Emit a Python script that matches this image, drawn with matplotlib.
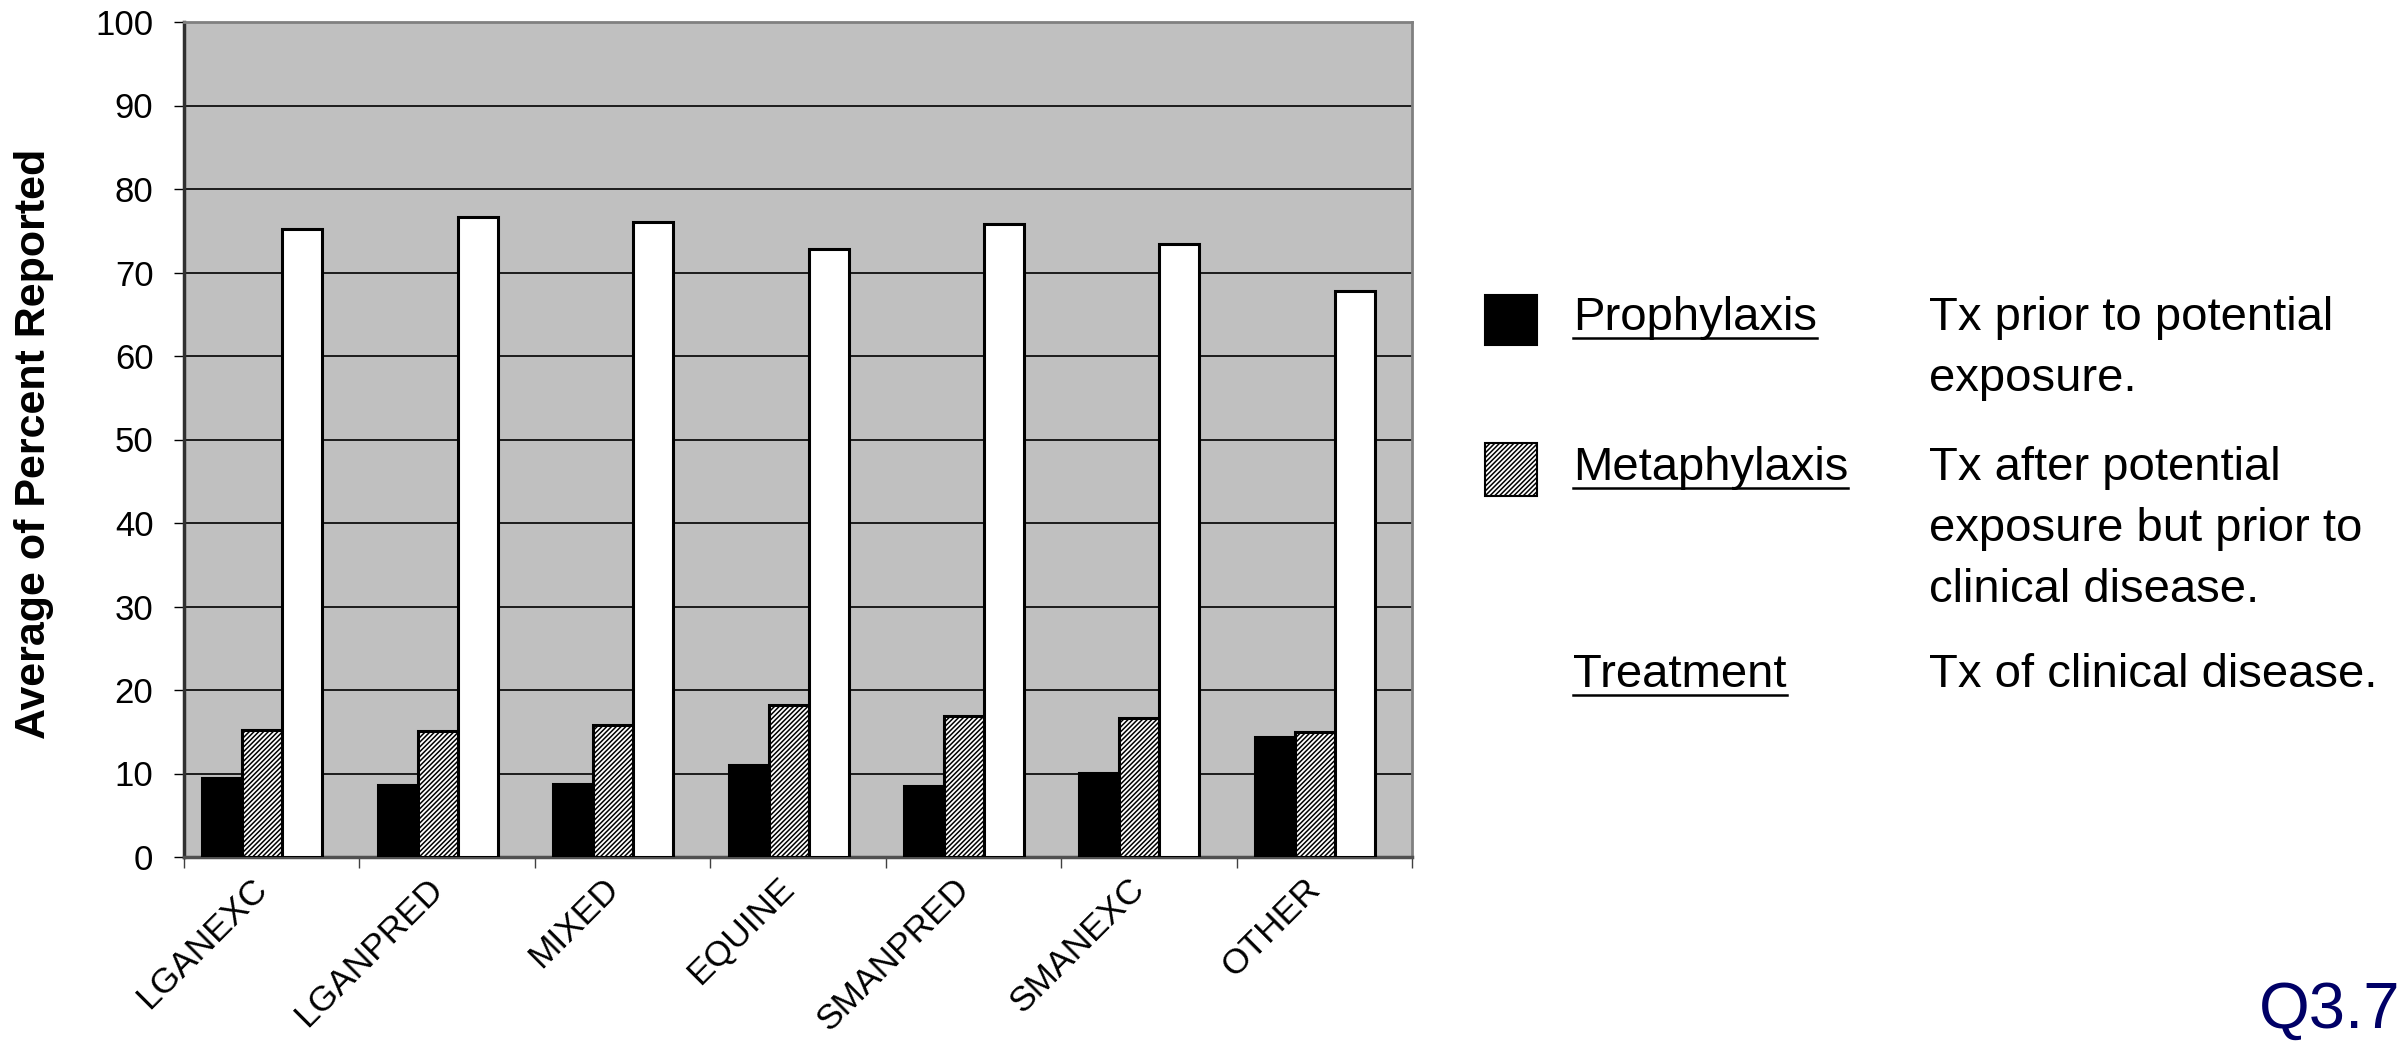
import numpy as np
import matplotlib.pyplot as plt
from matplotlib.patches import Rectangle

categories = ['LGANEXC', 'LGANPRED', 'MIXED', 'EQUINE', 'SMANPRED', 'SMANEXC', 'OTHER']
prophylaxis = [9.5, 8.6, 8.8, 11.0, 8.5, 10.1, 14.4]
metaphylaxis = [15.2, 15.1, 15.8, 18.2, 16.9, 16.6, 15.0]
treatment = [75.2, 76.7, 76.0, 72.8, 75.8, 73.4, 67.8]

legend_names = ['Prophylaxis', 'Metaphylaxis', 'Treatment']
legend_desc = [['Tx prior to potential', 'exposure.'],
               ['Tx after potential', 'exposure but prior to', 'clinical disease.'],
               ['Tx of clinical disease.']]

W, H = 2407, 1044
plt.rcParams['font.family'] = ['Liberation Sans', 'DejaVu Sans']
plt.rcParams['hatch.linewidth'] = 1.1

fig = plt.figure(figsize=(W / 100, H / 100), dpi=100)

# main chart, placed in pixel terms of the original
ax = fig.add_axes([184 / W, 1 - 857 / H, (1412 - 184) / W, (857 - 22) / H])
ax.set_facecolor('#c0c0c0')

x = np.arange(len(categories))
bw = 0.228
c = x + 0.446
ax.bar(c - bw, prophylaxis, bw, color='black', edgecolor='black', lw=2.2, zorder=3)
ax.bar(c, metaphylaxis, bw, color='white', edgecolor='black', hatch='///////', lw=2.2, zorder=3)
ax.bar(c + bw, treatment, bw, color='white', edgecolor='black', lw=2.2, zorder=3)

ax.set_xlim(0, len(categories))
ax.set_ylim(0, 100)
ax.set_yticks(range(0, 101, 10))
ax.yaxis.grid(True, color='black', lw=1.2)
ax.set_axisbelow(True)

ax.set_xticks(range(len(categories) + 1))
ax.set_xticklabels([])
ax.set_xticks(c, minor=True)
ax.set_xticklabels(categories, minor=True, rotation=45, ha='right', va='center',
                   rotation_mode='anchor', fontsize=25.5)
ax.tick_params(axis='x', which='minor', length=0, pad=19)
ax.tick_params(axis='x', which='major', length=8, width=1, color='#404040')
ax.tick_params(axis='y', length=7, width=1, labelsize=25, pad=15)

ax.spines['left'].set_color('#303030')
ax.spines['left'].set_linewidth(2.5)
ax.spines['bottom'].set_color('#505050')
ax.spines['bottom'].set_linewidth(2.5)
for s in ['top', 'right']:
    ax.spines[s].set_color('#808080')
    ax.spines[s].set_linewidth(2)

fig.text(34 / W, 1 - 444 / H, 'Average of Percent Reported', rotation=90,
         fontsize=31, fontweight='bold', ha='center', va='center')

# legend / notes drawn in pixel coordinates
lay = fig.add_axes([0, 0, 1, 1])
lay.set_xlim(0, W)
lay.set_ylim(H, 0)
lay.axis('off')

lay.add_patch(Rectangle((1485, 295), 52, 50, facecolor='black', edgecolor='black', lw=1.5))
lay.add_patch(Rectangle((1485, 443), 52, 53, facecolor='white', edgecolor='black',
                        hatch='///////', lw=1.5))

row_base = [330, 480, 687]
line_gap = 61
name_texts = []
for name, desc, yb in zip(legend_names, legend_desc, row_base):
    t = lay.text(1573, yb, name, fontsize=34, va='baseline', ha='left')
    name_texts.append((t, yb))
    for k, line in enumerate(desc):
        lay.text(1929, yb + k * line_gap, line, fontsize=34, va='baseline', ha='left')

fig.canvas.draw()
r = fig.canvas.get_renderer()
for t, yb in name_texts:
    bb = t.get_window_extent(r)
    lay.plot([bb.x0, bb.x1], [yb + 8, yb + 8], color='black', lw=1.8)

lay.text(2400, 1028, 'Q3.7', color='#000066', fontsize=47, va='baseline', ha='right')

fig.savefig('out.png', dpi=100)
